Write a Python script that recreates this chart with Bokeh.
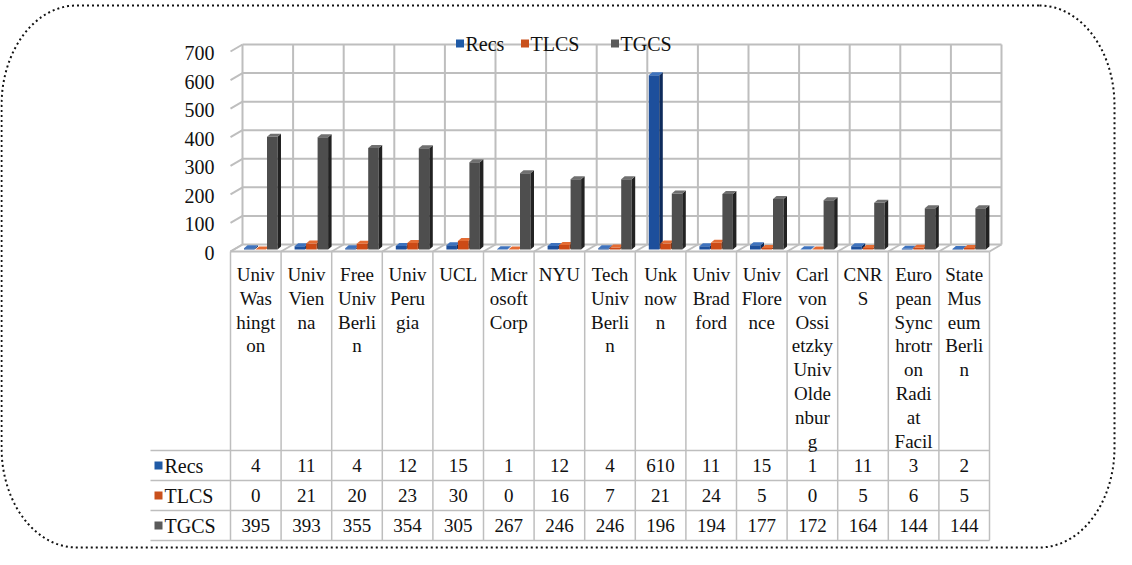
import numpy as np
from bokeh.plotting import figure
from bokeh.models import Range1d
from bokeh.core.properties import value
from bokeh.embed import file_html
from bokeh.resources import INLINE

# ---------------- data ----------------
categories = [
    "Univ\nWas\nhingt\non", "Univ\nVien\nna", "Free\nUniv\nBerli\nn", "Univ\nPeru\ngia",
    "UCL", "Micr\nosoft\nCorp", "NYU", "Tech\nUniv\nBerli\nn", "Unk\nnow\nn",
    "Univ\nBrad\nford", "Univ\nFlore\nnce",
    "Carl\nvon\nOssi\netzky\nUniv\nOlde\nnbur\ng", "CNR\nS",
    "Euro\npean\nSync\nhrotr\non\nRadi\nat\nFacil", "State\nMus\neum\nBerli\nn",
]
series_names = ["Recs", "TLCS", "TGCS"]
recs = [4, 11, 4, 12, 15, 1, 12, 4, 610, 11, 15, 1, 11, 3, 2]
tlcs = [0, 21, 20, 23, 30, 0, 16, 7, 21, 24, 5, 0, 5, 6, 5]
tgcs = [395, 393, 355, 354, 305, 267, 246, 246, 196, 194, 177, 172, 164, 144, 144]
y_ticks = [0, 100, 200, 300, 400, 500, 600, 700]

# ---------------- styles / layout ----------------
front_colors = ["#1D4F9C", "#CC4A16", "#4E4E4E"]
side_colors = ["#0E2B5C", "#85300C", "#222222"]
top_colors = ["#3F73BE", "#E46C34", "#707070"]
legend_colors = ["#1F5AA6", "#C9501C", "#5A5A5A"]
GRID = "#BEBEBE"
TXT = "#111111"
FONT = value("Liberation Serif")

W, H = 1116, 549
OX, OY = 8, 8
KX = 50.6        # px per category column
KY = 0.2857      # px per value unit
X0, Y0 = 238.0, 259.0   # front-left floor corner, page px

def X(px):
    return (px - X0) / KX

def Y(py):
    return (Y0 - py) / KY

def dX(px):
    return px / KX

def dY(py):
    return py / KY

n = len(categories)
vmax = y_ticks[-1]

p = figure(width=W, height=H,
           x_range=Range1d(X(OX), X(OX + W)), y_range=Range1d(Y(OY + H), Y(OY)),
           output_backend="svg", toolbar_location=None, min_border=0,
           x_axis_location=None, y_axis_location=None,
           background_fill_color="white", border_fill_color="white",
           outline_line_color=None)
p.grid.visible = False

# depth of the 3D box (back wall offset)
DXd, DYd = dX(12), dY(7)

# back wall horizontal gridlines
p.segment(x0=[DXd] * len(y_ticks), y0=[v + DYd for v in y_ticks],
          x1=[n + DXd] * len(y_ticks), y1=[v + DYd for v in y_ticks],
          line_color=GRID, line_width=2)
# back wall vertical gridlines
p.segment(x0=[i + DXd for i in range(n + 1)], y0=[DYd] * (n + 1),
          x1=[i + DXd for i in range(n + 1)], y1=[vmax + DYd] * (n + 1),
          line_color=GRID, line_width=2)
# side wall diagonals
p.segment(x0=[0] * len(y_ticks), y0=y_ticks,
          x1=[DXd] * len(y_ticks), y1=[v + DYd for v in y_ticks],
          line_color=GRID, line_width=2)
# floor
p.segment(x0=[0], y0=[0], x1=[n], y1=[0], line_color=GRID, line_width=2)
p.segment(x0=list(range(n + 1)), y0=[0] * (n + 1),
          x1=[i + DXd for i in range(n + 1)], y1=[DYd] * (n + 1),
          line_color=GRID, line_width=2)

# ---------------- 3D bars ----------------
bar_off_px = [13.5, 25.0, 36.5]
bar_w = dX(10.5)
bdx, bdy = dX(3.5), dY(3)
yb = dY(2)
for s, vals in enumerate([recs, tlcs, tgcs]):
    x0 = [i + dX(bar_off_px[s]) for i in range(n)]
    x1 = [a + bar_w for a in x0]
    yt = [yb + v for v in vals]
    p.quad(left=x0, right=x1, bottom=[yb] * n, top=yt,
           fill_color=front_colors[s], line_color=None)
    side_xs = [[b, b + bdx, b + bdx, b] for b in x1]
    side_ys = [[yb, yb + bdy, t + bdy, t] for t in yt]
    p.patches(side_xs, side_ys, fill_color=side_colors[s], line_color=None)
    top_xs = [[a, b, b + bdx, a + bdx] for a, b in zip(x0, x1)]
    top_ys = [[t, t, t + bdy, t + bdy] for t in yt]
    p.patches(top_xs, top_ys, fill_color=top_colors[s], line_color=None)

# ---------------- y tick labels ----------------
p.text(x=[X(222)] * len(y_ticks), y=[v - dY(1.5) for v in y_ticks],
       text=[str(v) for v in y_ticks], text_align="right", text_baseline="middle",
       text_font=FONT, text_font_size="20px", text_color=TXT)

# ---------------- legend ----------------
leg_sq_px = [467.5, 532.5, 622.5]
p.rect(x=[X(a) for a in leg_sq_px], y=[Y(51)] * 3, width=dX(8), height=dY(8),
       fill_color=legend_colors, line_color=None)
p.text(x=[X(a + 5.5) for a in leg_sq_px], y=[Y(51)] * 3, text=series_names,
       text_align="left", text_baseline="middle",
       text_font=FONT, text_font_size="20px", text_color=TXT)

# ---------------- data table ----------------
row_lines_px = [458, 488, 518, 548]
p.segment(x0=[X(158)] * 4, y0=[Y(r) for r in row_lines_px],
          x1=[n] * 4, y1=[Y(r) for r in row_lines_px],
          line_color=GRID, line_width=1.5)
p.segment(x0=list(range(n + 1)), y0=[0] * (n + 1),
          x1=list(range(n + 1)), y1=[Y(548)] * (n + 1),
          line_color=GRID, line_width=1.5)

# category header labels (wrapped)
lx, ly, lt = [], [], []
for i, c in enumerate(categories):
    for k, line in enumerate(c.split("\n")):
        lx.append(i + 0.5)
        ly.append(Y(281.7 + 23.9 * k))
        lt.append(line)
p.text(x=lx, y=ly, text=lt, text_align="center", text_baseline="middle",
       text_font=FONT, text_font_size="19px", text_color=TXT)

# row labels with colour keys
row_cy = [473, 503, 533]
p.rect(x=[X(166)] * 3, y=[Y(c) for c in row_cy], width=dX(8), height=dY(8),
       fill_color=legend_colors, line_color=None)
p.text(x=[X(172)] * 3, y=[Y(c) for c in row_cy], text=series_names,
       text_align="left", text_baseline="middle",
       text_font=FONT, text_font_size="20px", text_color=TXT)

# table values
vx, vy, vt = [], [], []
for r, vals in enumerate([recs, tlcs, tgcs]):
    for i, v in enumerate(vals):
        vx.append(i + 0.5)
        vy.append(Y(row_cy[r]))
        vt.append(str(v))
p.text(x=vx, y=vy, text=vt, text_align="center", text_baseline="middle",
       text_font=FONT, text_font_size="19px", text_color=TXT)

# ---------------- dotted rounded frame ----------------
L, R, T, B = 9, 1122, 13, 555
rx, ry = 75, 100

def arc(cx, cy, a0, a1):
    t = np.radians(np.linspace(a0, a1, 30))
    return list(cx + rx * np.cos(t)), list(cy - ry * np.sin(t))

bx, by = [], []
for cx, cy, a0, a1 in [(R - rx, T + ry, 90, 0), (R - rx, B - ry, 0, -90),
                       (L + rx, B - ry, -90, -180), (L + rx, T + ry, 180, 90)]:
    ax, ay = arc(cx, cy, a0, a1)
    bx += ax
    by += ay
bx.append(bx[0])
by.append(by[0])
p.line(x=[X(a) for a in bx], y=[Y(b) for b in by], line_color="#111111",
       line_width=2, line_dash="2 3")

open("out.html", "w").write(file_html(p, INLINE))
